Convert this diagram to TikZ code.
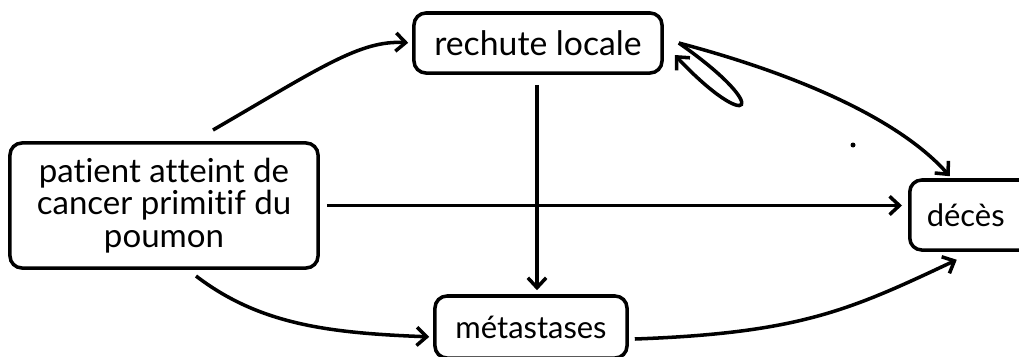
\documentclass[tikz,border=0pt]{standalone}
\usepackage{fontspec}
\setmainfont{Lato}[Ligatures={NoCommon,NoContextual}]
\usetikzlibrary{arrows.meta, calc}
\tikzset{
    etat/.style = {draw, line width=2.5pt, rounded corners=.3cm, align=center, inner sep=0pt,
        font=\fontsize{22}{22}\selectfont},
    fleche/.style = {line width=2.5pt, -{Straight Barb[length=7pt,width=13pt]}},
}
\begin{document}
\begin{tikzpicture}[x=0.025cm, y=-0.025cm]
\useasboundingbox (0,0) rectangle (1019,356);

\node[etat, minimum width=7.7cm, minimum height=3.125cm, font=\fontsize{23.5}{23}\selectfont] (patient) at (164,205.5)
    {patient atteint de\\cancer primitif du\\poumon};
\node[etat, minimum width=6.2cm, minimum height=1.5cm, font=\fontsize{24}{24}\selectfont] (rechute) at (538,43) {rechute locale};
\node[etat, minimum width=4.8cm, minimum height=1.55cm] (metas) at (531,327) {métastases};
\node[etat, anchor=west, minimum height=1.75cm, inner xsep=.425cm, text width=2.5cm, align=left] (deces) at (908,215) {décès};

\coordinate (depart1) at (213,130);
\coordinate (depart2) at (196,276);
\coordinate (boucle) at ($(rechute.east)+(.375cm,0)$);

\draw[fleche, shorten >=.1cm] (depart1) .. controls (320,68) and (360,40) .. (rechute.west);
\draw[fleche, shorten <=.25cm, shorten >=.1cm] ([xshift=-.025cm]rechute.south) -- ([xshift=-.025cm]rechute.south |- metas.north);
\draw[fleche, shorten <=.175cm, shorten >=.15cm] (patient.east) -- (patient.east -| deces.west);
\draw[fleche, shorten >=.1cm] (depart2) .. controls (260,325) and (330,333) .. ([yshift=-.25cm]metas.west);
\draw[fleche] ([shift={(.15cm,-.3cm)}]metas.east) .. controls (800,333) and (850,310) .. ([shift={(-.5cm,-.2cm)}]deces.south);
\draw[fleche] (boucle) .. controls (800,75) and (900,120) .. ([shift={(-.675cm,.05cm)}]deces.north);
\draw[fleche] (boucle) .. controls (775,110) and (750,135) .. ([shift={(.275cm,-.3cm)}]rechute.east);

\fill (853,145) circle[radius=2.5];
\end{tikzpicture}
\end{document}
